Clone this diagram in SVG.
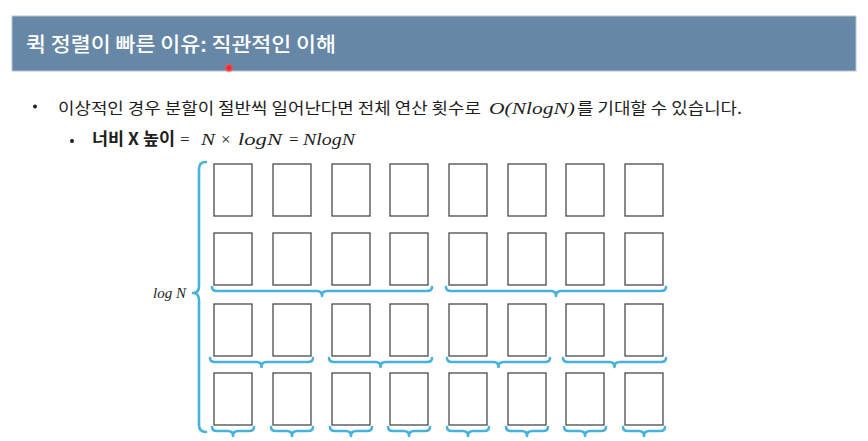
<svg xmlns="http://www.w3.org/2000/svg" width="868" height="441" viewBox="0 0 868 441">
<defs>
<radialGradient id="glow">
<stop offset="0" stop-color="#ff2020"/>
<stop offset="0.45" stop-color="#ff3030"/>
<stop offset="1" stop-color="#ff6060" stop-opacity="0"/>
</radialGradient>
</defs>
<style>
.kr{font-family:"Noto Sans CJK KR","Noto Sans",sans-serif;fill:#1e1e1e;}
.m{font-family:"Liberation Serif","DejaVu Serif",serif;fill:#1e1e1e;}
.mi{font-family:"Liberation Serif","DejaVu Serif",serif;font-style:italic;fill:#1e1e1e;}
.box{fill:#fff;stroke:#4a4a4a;stroke-width:1.3;}
.brace{fill:none;stroke:#47b2dc;stroke-width:2.6;stroke-linecap:round;stroke-linejoin:round;}
</style>
<rect width="868" height="441" fill="#fff"/>
<g id="header">
<rect x="12" y="16" width="844" height="55" fill="#6688a6" stroke="#b3c6d8" stroke-width="1"/>
<text x="26" y="52" class="kr" style="fill:#fff" font-size="20" font-weight="500" textLength="310" lengthAdjust="spacingAndGlyphs">퀵 정렬이 빠른 이유: 직관적인 이해</text>
</g>
<circle cx="229" cy="68" r="5" fill="url(#glow)"/>
<g id="bullet1">
<circle cx="35" cy="106.5" r="2" fill="#1e1e1e"/>
<text x="58" y="113.5" class="kr" font-size="16" textLength="423" lengthAdjust="spacingAndGlyphs">이상적인 경우 분할이 절반씩 일어난다면 전체 연산 횟수로</text>
<text x="489" y="113.5" class="mi" font-size="17" textLength="86" lengthAdjust="spacingAndGlyphs">O<tspan class="m">(</tspan>NlogN<tspan class="m">)</tspan></text>
<text x="577" y="113.5" class="kr" font-size="16" textLength="165" lengthAdjust="spacingAndGlyphs">를 기대할 수 있습니다.</text>
</g>
<g id="bullet2">
<circle cx="72" cy="141" r="2" fill="#1e1e1e"/>
<text x="92" y="145" class="kr" font-size="16.5" font-weight="bold" textLength="83" lengthAdjust="spacingAndGlyphs">너비 X 높이</text>
<text x="180" y="145" class="m" font-size="17">=</text>
<text x="201" y="145" class="mi" font-size="17" textLength="14" lengthAdjust="spacingAndGlyphs">N</text>
<text x="221" y="145" class="m" font-size="17">×</text>
<text x="238" y="145" class="mi" font-size="17" textLength="44" lengthAdjust="spacingAndGlyphs">logN</text>
<text x="289" y="145" class="m" font-size="17">=</text>
<text x="303" y="145" class="mi" font-size="17" textLength="52" lengthAdjust="spacingAndGlyphs">NlogN</text>
</g>
<g id="label-logN">
<text x="153" y="298" class="mi" font-size="15">log N</text>
</g>
<g id="row1">
<g id="box-r1c1"><rect class="box" x="214" y="164" width="38" height="52"/></g>
<g id="box-r1c2"><rect class="box" x="273" y="164" width="38" height="52"/></g>
<g id="box-r1c3"><rect class="box" x="332" y="164" width="38" height="52"/></g>
<g id="box-r1c4"><rect class="box" x="390" y="164" width="38" height="52"/></g>
<g id="box-r1c5"><rect class="box" x="449" y="164" width="38" height="52"/></g>
<g id="box-r1c6"><rect class="box" x="508" y="164" width="38" height="52"/></g>
<g id="box-r1c7"><rect class="box" x="566" y="164" width="38" height="52"/></g>
<g id="box-r1c8"><rect class="box" x="625" y="164" width="38" height="52"/></g>
</g>
<g id="row2">
<g id="box-r2c1"><rect class="box" x="214" y="233" width="38" height="52"/></g>
<g id="box-r2c2"><rect class="box" x="273" y="233" width="38" height="52"/></g>
<g id="box-r2c3"><rect class="box" x="332" y="233" width="38" height="52"/></g>
<g id="box-r2c4"><rect class="box" x="390" y="233" width="38" height="52"/></g>
<g id="box-r2c5"><rect class="box" x="449" y="233" width="38" height="52"/></g>
<g id="box-r2c6"><rect class="box" x="508" y="233" width="38" height="52"/></g>
<g id="box-r2c7"><rect class="box" x="566" y="233" width="38" height="52"/></g>
<g id="box-r2c8"><rect class="box" x="625" y="233" width="38" height="52"/></g>
</g>
<g id="row3">
<g id="box-r3c1"><rect class="box" x="214" y="304" width="38" height="52"/></g>
<g id="box-r3c2"><rect class="box" x="273" y="304" width="38" height="52"/></g>
<g id="box-r3c3"><rect class="box" x="332" y="304" width="38" height="52"/></g>
<g id="box-r3c4"><rect class="box" x="390" y="304" width="38" height="52"/></g>
<g id="box-r3c5"><rect class="box" x="449" y="304" width="38" height="52"/></g>
<g id="box-r3c6"><rect class="box" x="508" y="304" width="38" height="52"/></g>
<g id="box-r3c7"><rect class="box" x="566" y="304" width="38" height="52"/></g>
<g id="box-r3c8"><rect class="box" x="625" y="304" width="38" height="52"/></g>
</g>
<g id="row4">
<g id="box-r4c1"><rect class="box" x="214" y="373" width="38" height="52"/></g>
<g id="box-r4c2"><rect class="box" x="273" y="373" width="38" height="52"/></g>
<g id="box-r4c3"><rect class="box" x="332" y="373" width="38" height="52"/></g>
<g id="box-r4c4"><rect class="box" x="390" y="373" width="38" height="52"/></g>
<g id="box-r4c5"><rect class="box" x="449" y="373" width="38" height="52"/></g>
<g id="box-r4c6"><rect class="box" x="508" y="373" width="38" height="52"/></g>
<g id="box-r4c7"><rect class="box" x="566" y="373" width="38" height="52"/></g>
<g id="box-r4c8"><rect class="box" x="625" y="373" width="38" height="52"/></g>
</g>
<g id="connectors">
<path class="brace" d="M206 162 Q199 162 199 169 L199 286 Q199 293 193 293 Q199 293 199 300 L199 425 Q199 432 206 432"/>
<path class="brace" d="M212 287 Q212 291 217 291 L317 291 Q322 291 322 296 Q322 291 327 291 L427 291 Q432 291 432 287"/>
<path class="brace" d="M446 287 Q446 291 451 291 L551 291 Q556 291 556 296 Q556 291 561 291 L661 291 Q666 291 666 287"/>
<path class="brace" d="M210 358 Q210 362 215 362 L256.5 362 Q261.5 362 261.5 367 Q261.5 362 266.5 362 L308 362 Q313 362 313 358"/>
<path class="brace" d="M329 358 Q329 362 334 362 L375.5 362 Q380.5 362 380.5 367 Q380.5 362 385.5 362 L427 362 Q432 362 432 358"/>
<path class="brace" d="M447 358 Q447 362 452 362 L493.5 362 Q498.5 362 498.5 367 Q498.5 362 503.5 362 L545 362 Q550 362 550 358"/>
<path class="brace" d="M563 358 Q563 362 568 362 L609.5 362 Q614.5 362 614.5 367 Q614.5 362 619.5 362 L661 362 Q666 362 666 358"/>
<path class="brace" d="M212 427 Q212 431 217 431 L228 431 Q233 431 233 436 Q233 431 238 431 L249 431 Q254 431 254 427"/>
<path class="brace" d="M271 427 Q271 431 276 431 L287 431 Q292 431 292 436 Q292 431 297 431 L308 431 Q313 431 313 427"/>
<path class="brace" d="M330 427 Q330 431 335 431 L346 431 Q351 431 351 436 Q351 431 356 431 L367 431 Q372 431 372 427"/>
<path class="brace" d="M388 427 Q388 431 393 431 L404 431 Q409 431 409 436 Q409 431 414 431 L425 431 Q430 431 430 427"/>
<path class="brace" d="M447 427 Q447 431 452 431 L463 431 Q468 431 468 436 Q468 431 473 431 L484 431 Q489 431 489 427"/>
<path class="brace" d="M506 427 Q506 431 511 431 L522 431 Q527 431 527 436 Q527 431 532 431 L543 431 Q548 431 548 427"/>
<path class="brace" d="M564 427 Q564 431 569 431 L580 431 Q585 431 585 436 Q585 431 590 431 L601 431 Q606 431 606 427"/>
<path class="brace" d="M623 427 Q623 431 628 431 L639 431 Q644 431 644 436 Q644 431 649 431 L660 431 Q665 431 665 427"/>
</g>
</svg>
